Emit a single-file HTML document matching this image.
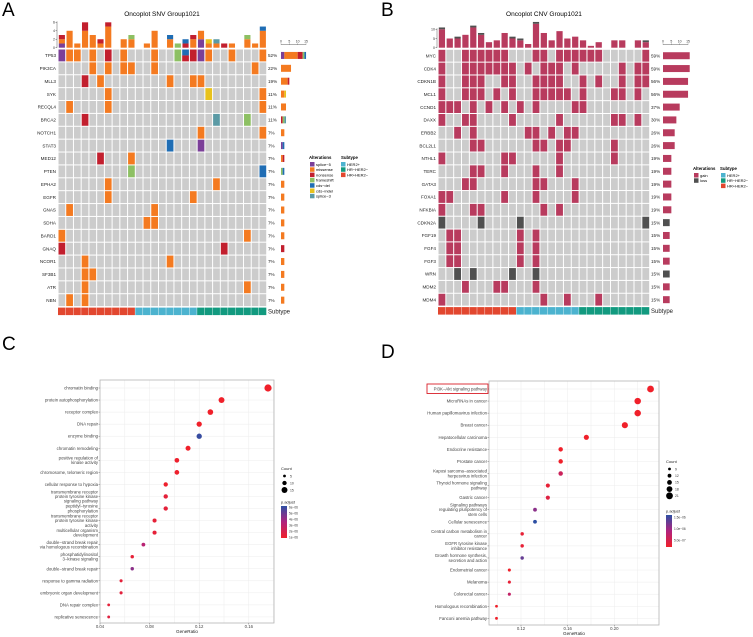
<!DOCTYPE html>
<html><head><meta charset="utf-8">
<style>
html,body{margin:0;padding:0;background:#fff;}
svg{display:block;font-family:"Liberation Sans",sans-serif;}
</style></head>
<body>
<svg id="fig" width="753" height="637" viewBox="0 0 753 637" xmlns="http://www.w3.org/2000/svg">
<defs>
<linearGradient id="gradC" x1="0" y1="1" x2="0" y2="0">
<stop offset="0" stop-color="#f0202a"/><stop offset="0.5" stop-color="#b0237e"/><stop offset="1" stop-color="#2d4fa3"/>
</linearGradient>
</defs>
<text x="2" y="16" font-size="19">A</text>
<text x="381" y="16" font-size="19">B</text>
<text x="2" y="350" font-size="19">C</text>
<text x="381" y="358" font-size="19">D</text>
<g id="pa"></g>
<g id="pb"></g>
<g id="pc"></g>
<g id="pd"></g>
</svg>
<script>
// ---------- Panel A data ----------
const snvGenes = ["TP53","PIK3CA","MLL3","SYK","RECQL4","BRCA2","NOTCH1","STAT3","MED12","PTEN","EPHA2","EGFR","GNAS","SDHA","BARD1","GNAQ","NCOR1","SF3B1","ATR","NBN"];
const snvMuts = [
 [[0,"P"],[1,"O"],[2,"O"],[4,"O"],[6,"R"],[8,"O"],[12,"O"],[15,"G"],[16,"BR"],[17,"R"],[18,"P"],[19,"O"],[22,"O"],[26,"O"]],
 [[4,"O"],[6,"O"],[8,"O"],[9,"O"],[12,"O"],[25,"O"]],
 [[3,"R"],[5,"O"],[14,"O"],[17,"O"],[18,"O"]],
 [[6,"O"],[19,"Y"],[26,"O"]],
 [[1,"O"],[6,"O"],[26,"O"]],
 [[3,"R"],[20,"T"],[24,"G"]],
 [[18,"O"],[26,"O"]],
 [[14,"B"],[18,"P"]],
 [[5,"R"],[9,"O"]],
 [[9,"G"],[26,"B"]],
 [[6,"O"],[20,"O"]],
 [[6,"O"],[17,"O"]],
 [[1,"O"],[12,"O"]],
 [[11,"O"],[12,"O"]],
 [[0,"O"],[24,"O"]],
 [[0,"R"],[21,"R"]],
 [[3,"O"],[14,"O"]],
 [[3,"O"],[4,"O"]],
 [[3,"O"],[24,"O"]],
 [[1,"O"],[3,"O"]]
];
const snvPct = ["52%","22%","19%","11%","11%","11%","7%","7%","7%","7%","7%","7%","7%","7%","7%","7%","7%","7%","7%","7%"];
const subtypes = [2,2,2,2,2,2,2,2,2,2,0,0,0,0,0,0,0,0,1,1,1,1,1,1,1,1,1];
// ---------- Panel B data ----------
const cnvGenes = ["MYC","CDK4","CDKN1B","MCL1","CCND1","DAXX","ERBB2","BCL2L1","NTHL1","TERC","GATA3","FOXA1","NFKBIA","CDKN2A","FGF19","FGF4","FGF3","WRN","MDM2","MDM4"];
const cnvGain = [
 [0,3,4,5,6,7,8,12,13,15,16,17,18,19,20,26],
 [0,3,4,5,6,7,8,9,11,13,14,15,17,23,25,26],
 [0,3,4,5,8,9,12,13,14,15,18,20,23,25,26],
 [0,3,4,5,7,9,12,13,14,15,16,18,22,23,25],
 [0,1,2,4,6,8,10,12,17,18],
 [0,3,4,9,15,22,23,25],
 [2,4,11,12,14,16,17],
 [4,5,12,13,15,16,22],
 [0,8,9,15,22],
 [4,5,8,12,15],
 [3,4,12,13,17],
 [0,1,8,12,17],
 [0,4,5,13,15],
 [],
 [1,2,10,12],
 [1,2,10,12],
 [1,2,10,12],
 [],
 [3,7,8,12],
 [0,13,16,20]
];
const cnvLoss = [[],[],[],[],[],[],[],[],[],[],[],[],[],[0,5,10,26],[],[],[],[2,4,9,12],[],[]];
const cnvPct = ["59%","59%","56%","56%","37%","30%","26%","26%","19%","19%","19%","19%","19%","15%","15%","15%","15%","15%","15%","15%"];
// ---------- Panel C data ----------
const goTerms = [["chromatin binding"],["protein autophosphorylation"],["receptor complex"],["DNA repair"],["enzyme binding"],["chromatin remodeling"],["positive regulation of","kinase activity"],["chromosome, telomeric region"],["cellular response to hypoxia"],["transmembrane receptor","protein tyrosine kinase","signaling pathway"],["peptidyl−tyrosine","phosphorylation"],["transmembrane receptor","protein tyrosine kinase","activity"],["multicellular organism","development"],["double−strand break repair","via homologous recombination"],["phosphatidylinositol","3−kinase signaling"],["double−strand break repair"],["response to gamma radiation"],["embryonic organ development"],["DNA repair complex"],["replicative senescence"]];
const goRatio = [0.1755,0.138,0.129,0.12,0.12,0.111,0.102,0.102,0.093,0.093,0.093,0.084,0.084,0.075,0.066,0.066,0.057,0.057,0.047,0.047];
const goCount = [19,15,14,13,13,12,11,11,10,10,10,9,9,8,7,7,6,6,5,5];
const goPadj = [0.9e-6,0.9e-6,0.9e-6,0.9e-6,6e-6,0.9e-6,1e-6,1e-6,1e-6,1.4e-6,1.4e-6,1.3e-6,1.3e-6,3.2e-6,1.3e-6,4.3e-6,1.4e-6,1.5e-6,1.4e-6,1.6e-6];
const goXTicks = [0.04,0.08,0.12,0.16];
// ---------- Panel D data ----------
const keggTerms = [["PI3K−Akt signaling pathway"],["MicroRNAs in cancer"],["Human papillomavirus infection"],["Breast cancer"],["Hepatocellular carcinoma"],["Endocrine resistance"],["Prostate cancer"],["Kaposi sarcoma−associated","herpesvirus infection"],["Thyroid hormone signaling","pathway"],["Gastric cancer"],["Signaling pathways","regulating pluripotency of","stem cells"],["Cellular senescence"],["Central carbon metabolism in","cancer"],["EGFR tyrosine kinase","inhibitor resistance"],["Growth hormone synthesis,","secretion and action"],["Endometrial cancer"],["Melanoma"],["Colorectal cancer"],["Homologous recombination"],["Fanconi anemia pathway"]];
const keggRatio = [0.231,0.220,0.220,0.209,0.176,0.154,0.154,0.154,0.143,0.143,0.132,0.132,0.121,0.121,0.121,0.110,0.110,0.110,0.099,0.099];
const keggCount = [21,20,20,19,16,14,14,14,13,13,12,12,11,11,11,10,10,10,9,9];
const keggPadj = [2e-7,2e-7,2e-7,2e-7,2e-7,2e-7,2e-7,6e-7,3e-7,4e-7,1.1e-6,1.6e-6,3e-7,3e-7,1.3e-6,2e-7,3e-7,7e-7,2e-7,2e-7];
const keggXTicks = [0.12,0.16,0.20];

const NS="http://www.w3.org/2000/svg";
function mk(parent,tag,attrs,txt){const e=document.createElementNS(NS,tag);for(const k in attrs)e.setAttribute(k,attrs[k]);if(txt!==undefined)e.textContent=txt;parent.appendChild(e);return e;}
const snvColors={P:"#7b3f98",O:"#f47a20",R:"#c21f2e",G:"#8dc063",B:"#1f6db4",Y:"#e8c21c",T:"#5b9aa5"};
const snvOrder=["P","O","R","G","B","Y","T"];
const subColors=["#4cb3cf","#129a7f","#e2472f"];
const GRAY="#cccccc";

function oncoplot(g,opt){
  const {x0,y0,cw,rh,genes,cells,pct,title,titleX,topZero,topScale,sideX,sideScale,colors,order,pctX,ticksTop,topTicks}=opt;
  const n=27;
  mk(g,"text",{x:titleX,y:16,"font-size":6.5,"text-anchor":"middle",},title);
  // top bar axis
  const ax=mk(g,"g",{});
  
  
  mk(ax,"line",{x1:x0-1,x2:x0-1,y1:topZero-topTicks[topTicks.length-1]*topScale-1,y2:topZero,stroke:"#333","stroke-width":0.4});
  topTicks.forEach(t=>{const y=topZero-t*topScale;mk(ax,"line",{x1:x0-2.5,x2:x0-1,y1:y,y2:y,stroke:"#333","stroke-width":0.4});mk(ax,"text",{x:x0-3,y:y+1.3,"font-size":3.6,"text-anchor":"end",fill:"#333"},t);});
  // counts per column
  for(let c=0;c<n;c++){
    const cnt={};order.forEach(o=>cnt[o]=0);
    cells.forEach(row=>row.forEach(([cc,t])=>{if(cc===c){for(const ch of t)cnt[ch]++;}}));
    let y=topZero;
    order.forEach(o=>{if(cnt[o]>0){const h=cnt[o]*topScale;const r=mk(g,"rect",{x:x0+c*cw+0.8,y:y-h,width:cw-1.6,height:h,fill:colors[o]});
      
      
      y-=h;}});
  }
  // side axis
  mk(g,"line",{x1:sideX,x2:sideX+15*sideScale,y1:44.5,y2:44.5,stroke:"#333","stroke-width":0.4});
  [0,5,10,15].forEach(t=>{mk(g,"line",{x1:sideX+t*sideScale,x2:sideX+t*sideScale,y1:43.5,y2:44.5,stroke:"#333","stroke-width":0.4});mk(g,"text",{x:sideX+t*sideScale,y:42.5,"font-size":3.4,"text-anchor":"middle",fill:"#333"},t);});
  genes.forEach((gn,i)=>{
    const y=y0+i*rh;
    const lab=mk(g,"text",{x:x0-2,y:y+rh/2+1.7,"font-size":4.6,"text-anchor":"end",fill:"#222"},gn);
    
    
    for(let c=0;c<n;c++){
      const f=cells[i].find(m=>m[0]===c);
      const x=x0+c*cw+0.5,w=cw-1,h=rh-1,yy=y+0.5;
      if(!f){mk(g,"rect",{x:x,y:yy,width:w,height:h,fill:GRAY});}
      else if(f[1].length===1){const r=mk(g,"rect",{x:x,y:yy,width:w,height:h,fill:colors[f[1]]});
        
        }
      else{mk(g,"rect",{x:x,y:yy,width:w,height:h/2,fill:colors[f[1][0]]});mk(g,"rect",{x:x,y:yy+h/2,width:w,height:h/2,fill:colors[f[1][1]]});}
    }
    const pt=mk(g,"text",{x:pctX,y:y+rh/2+1.7,"font-size":4.6,fill:"#222"},pct[i]);
    
    
    // side stacked bar
    const cnt={};order.forEach(o=>cnt[o]=0);
    cells[i].forEach(([cc,t])=>{for(const ch of t)cnt[ch]++;});
    let sx=sideX;
    order.forEach(o=>{if(cnt[o]>0){const w=cnt[o]*sideScale;const r=mk(g,"rect",{x:sx,y:y+rh/2-3.5,width:w,height:7,fill:colors[o]});
      
      
      sx+=w;}});
  }
  );
  const sy=y0+genes.length*rh+1;
  for(let c=0;c<n;c++){const r=mk(g,"rect",{x:x0+c*cw,y:sy,width:cw-0.4,height:7.5,fill:subColors[subtypes[c]]});
    
    }
  mk(g,"text",{x:pctX,y:sy+6,"font-size":6,fill:"#222"},"Subtype");
}
function toCells(gain,loss){return gain.map((row,i)=>row.map(c=>[c,"A"]).concat(loss[i].map(c=>[c,"L"])));}

oncoplot(document.getElementById("pa"),{x0:58,y0:49,cw:7.73,rh:12.88,genes:snvGenes,cells:snvMuts,pct:snvPct,title:"Oncoplot SNV Group1021",titleX:162,topZero:47.7,topScale:4.23,topTicks:[0,2,4,6],sideX:281,sideScale:1.67,colors:snvColors,order:snvOrder,pctX:268});
oncoplot(document.getElementById("pb"),{x0:438,y0:49.3,cw:7.84,rh:12.84,genes:cnvGenes,cells:toCells(cnvGain,cnvLoss),pct:cnvPct,title:"Oncoplot CNV Group1021",titleX:544,topZero:47.7,topScale:1.84,topTicks:[0,5,10],sideX:663,sideScale:1.67,colors:{A:"#b83b5e",L:"#505050"},order:["A","L"],pctX:651});

// legends A
(function(){
  const g=document.getElementById("pa");
  mk(g,"text",{x:309,y:159,"font-size":4.3,"font-weight":"bold"},"Alterations");
  const names=["splice−5","missense","nonsense","frameshift","cds−del","cds−indel","splice−3"];
  names.forEach((nm,i)=>{const y=162+i*5.3;const r=mk(g,"rect",{x:310,y:y,width:4.5,height:4.5,fill:snvColors[snvOrder[i]]});
    
    
    mk(g,"text",{x:316,y:y+3.8,"font-size":4},nm);});
  mk(g,"text",{x:341,y:159,"font-size":4.3,"font-weight":"bold"},"Subtype");
  ["HER2+","HR−HER2−","HR+HER2−"].forEach((nm,i)=>{const y=162+i*5.3;mk(g,"rect",{x:341,y:y,width:4.5,height:4.5,fill:subColors[i]});mk(g,"text",{x:347,y:y+3.8,"font-size":4},nm);});
  const b=document.getElementById("pb");
  mk(b,"text",{x:693,y:170,"font-size":4.3,"font-weight":"bold"},"Alterations");
  [["gain","#b83b5e"],["loss","#505050"]].forEach(([nm,c],i)=>{const y=173+i*5.3;mk(b,"rect",{x:694,y:y,width:4.5,height:4.5,fill:c});mk(b,"text",{x:700,y:y+3.8,"font-size":4},nm);});
  mk(b,"text",{x:720,y:170,"font-size":4.3,"font-weight":"bold"},"Subtype");
  ["HER2+","HR−HER2−","HR+HER2−"].forEach((nm,i)=>{const y=173+i*5.3;mk(b,"rect",{x:721,y:y,width:4.5,height:4.5,fill:subColors[i]});mk(b,"text",{x:727,y:y+3.8,"font-size":4},nm);});
})();

function lerp(a,b,t){return Math.round(a+(b-a)*t);}
function colorFor(t){t=Math.max(0,Math.min(1,t));const s=[[240,32,42],[176,35,126],[45,79,163]];let a,b,u;if(t<0.5){a=s[0];b=s[1];u=t/0.5;}else{a=s[1];b=s[2];u=(t-0.5)/0.5;}return `rgb(${lerp(a[0],b[0],u)},${lerp(a[1],b[1],u)},${lerp(a[2],b[2],u)})`;}

function dotplot(g,opt){
  const {bx0,bx1,by0,by1,terms,ratio,count,padj,ticks,xmin,xmax,y0row,rowStep,pmin,pmax,rmin,rmax,cmin,cmax,legX,legY,countTicks,pTicks,pTickLabels,barY0,barY1}=opt;
  const sx=v=>bx0+(v-xmin)/(xmax-xmin)*(bx1-bx0);
  const sy=i=>y0row+i*rowStep;
  const rad=c=>rmin+(c-cmin)/(cmax-cmin)*(rmax-rmin);
  // grid
  const half=(ticks[1]-ticks[0])/2;
  for(let v=ticks[0]-half*2;v<=xmax;v+=half){const x=sx(v);if(x>bx0&&x<bx1)mk(g,"line",{x1:x,x2:x,y1:by0,y2:by1,stroke:"#ececec","stroke-width":0.5});}
  terms.forEach((t,i)=>mk(g,"line",{x1:bx0,x2:bx1,y1:sy(i),y2:sy(i),stroke:"#ececec","stroke-width":0.5}));
  const box=mk(g,"rect",{x:bx0,y:by0,width:bx1-bx0,height:by1-by0,fill:"none",stroke:"#b5b5b5","stroke-width":0.8});
  
  
  ticks.forEach(v=>{const x=sx(v);mk(g,"line",{x1:x,x2:x,y1:by1,y2:by1+1.5,stroke:"#555","stroke-width":0.4});const tl=mk(g,"text",{x:x,y:by1+5,"font-size":4.3,"text-anchor":"middle",fill:"#444"},v.toFixed(2));
    
    });
  const xt=mk(g,"text",{x:(bx0+bx1)/2,y:by1+10,"font-size":4.6,"text-anchor":"middle",fill:"#222"},"GeneRatio");
  
  
  terms.forEach((lines,i)=>{
    const y=sy(i);
    mk(g,"line",{x1:bx0-1.5,x2:bx0,y1:y,y2:y,stroke:"#555","stroke-width":0.4});
    const lh=4.7,start=y-(lines.length-1)*lh/2+1.5;
    const t=mk(g,"text",{"font-size":4.3,"text-anchor":"end",fill:"#444"});
    
    
    lines.forEach((ln,k)=>mk(t,"tspan",{x:bx0-2,y:start+k*lh},ln));
    const d=mk(g,"circle",{cx:sx(ratio[i]),cy:y,r:rad(count[i]),fill:colorFor((padj[i]-pmin)/(pmax-pmin))});
    
    
  });
  // legends
  mk(g,"text",{x:legX,y:legY,"font-size":4,fill:"#222"},"Count");
  countTicks.forEach((c,k)=>{const y=legY+6+k*(opt.legStep);mk(g,"circle",{cx:legX+3.5,cy:y,r:rad(c),fill:"#000"});mk(g,"text",{x:legX+9,y:y+1.3,"font-size":3.4,fill:"#333"},c);});
  mk(g,"text",{x:legX,y:barY0-2.5,"font-size":4,fill:"#222"},"p.adjust");
  const cb=mk(g,"rect",{x:legX,y:barY0,width:6,height:barY1-barY0,fill:"url(#gradC)"});
  
  
  pTicks.forEach((p,k)=>{const y=barY1-(p-pmin)/(pmax-pmin)*(barY1-barY0);mk(g,"text",{x:legX+8,y:y+1.2,"font-size":3.2,fill:"#333"},pTickLabels[k]);});
}
dotplot(document.getElementById("pc"),{bx0:100,bx1:274,by0:380,by1:623,terms:goTerms,ratio:goRatio,count:goCount,padj:goPadj,ticks:goXTicks,xmin:0.04,xmax:0.04+174/1240,y0row:388,rowStep:12.05,pmin:0.9e-6,pmax:6.2e-6,rmin:1.4,rmax:3.6,cmin:5,cmax:19,legX:281,legY:470,legStep:7,countTicks:[5,10,15],pTicks:[1e-6,2e-6,3e-6,4e-6,5e-6,6e-6],pTickLabels:["1e−06","2e−06","3e−06","4e−06","5e−06","6e−06"],barY0:506,barY1:538});
dotplot(document.getElementById("pd"),{bx0:489,bx1:659,by0:381,by1:625,terms:keggTerms,ratio:keggRatio,count:keggCount,padj:keggPadj,ticks:keggXTicks,xmin:0.12-32/1167,xmax:0.12+138/1167,y0row:389,rowStep:12.07,pmin:2e-7,pmax:1.6e-6,rmin:1.4,rmax:3.4,cmin:9,cmax:21,legX:666,legY:463,legStep:6.7,countTicks:[9,12,15,18,21],pTicks:[5e-7,1e-6,1.5e-6],pTickLabels:["5.0e−07","1.0e−06","1.5e−06"],barY0:515,barY1:547});
(function(){const g=document.getElementById("pd");const r=mk(g,"rect",{x:427,y:384,width:61,height:9.5,fill:"none",stroke:"#d9202a","stroke-width":0.9});

})();
</script>
</body></html>
